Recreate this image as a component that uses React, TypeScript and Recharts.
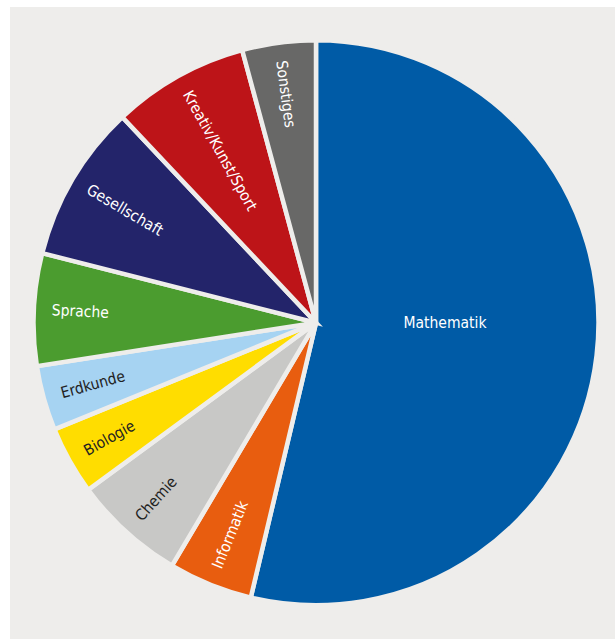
import React from "react";
import { PieChart, Pie, Cell } from "recharts";

const subjects = [
  "Mathematik",
  "Informatik",
  "Chemie",
  "Biologie",
  "Erdkunde",
  "Sprache",
  "Gesellschaft",
  "Kreativ/Kunst/Sport",
  "Sonstiges",
];
const shares = [53.6, 4.8, 6.4, 3.9, 3.7, 6.4, 9.0, 7.8, 4.2];
const colors = [
  "#005ba6",
  "#e85d0f",
  "#c8c8c6",
  "#ffdd00",
  "#a6d3f2",
  "#4b9c2f",
  "#23246a",
  "#bd1418",
  "#686867",
];
const textColors = [
  "#ffffff",
  "#ffffff",
  "#222222",
  "#222222",
  "#222222",
  "#ffffff",
  "#ffffff",
  "#ffffff",
  "#ffffff",
];

const data = subjects.map((name, i) => ({ name, value: shares[i] }));

const BG = "#eeedeb";
const RAD = Math.PI / 180;
const FONT = "'Liberation Sans Narrow', 'DejaVu Sans Condensed', 'Arial Narrow', sans-serif";
const FS = 15.5;

const renderLabel = (props: any) => {
  const { cx, cy, midAngle, outerRadius, index, name } = props;
  if (index === 0) {
    return (
      <text
        x={cx + 129}
        y={cy}
        fill={textColors[index]}
        fontSize={FS}
        fontFamily={FONT}
        textAnchor="middle"
        dominantBaseline="central"
      >
        {name}
      </text>
    );
  }
  const r = outerRadius - 18;
  const x = cx + r * Math.cos(-midAngle * RAD);
  const y = cy + r * Math.sin(-midAngle * RAD);
  let rot = -(midAngle + 180);
  rot = ((rot % 360) + 360) % 360;
  return (
    <text
      x={x}
      y={y}
      fill={textColors[index]}
      fontSize={FS}
      fontFamily={FONT}
      textAnchor="start"
      dominantBaseline="central"
      transform={`rotate(${rot}, ${x}, ${y})`}
    >
      {name}
    </text>
  );
};

export default function App() {
  return (
    <div
      style={{
        position: "absolute",
        left: 10,
        top: 7,
        width: 605,
        height: 632,
        background: BG,
      }}
    >
      <PieChart width={605} height={632} margin={{ top: 0, right: 0, bottom: 0, left: 0 }}>
        <Pie
          data={data}
          dataKey="value"
          nameKey="name"
          cx={306}
          cy={315.7}
          outerRadius={282.5}
          innerRadius={0}
          startAngle={90}
          endAngle={-270}
          stroke={BG}
          strokeWidth={4.5}
          label={renderLabel}
          labelLine={false}
          isAnimationActive={false}
        >
          {data.map((d, i) => (
            <Cell key={d.name} fill={colors[i]} />
          ))}
        </Pie>
      </PieChart>
    </div>
  );
}
